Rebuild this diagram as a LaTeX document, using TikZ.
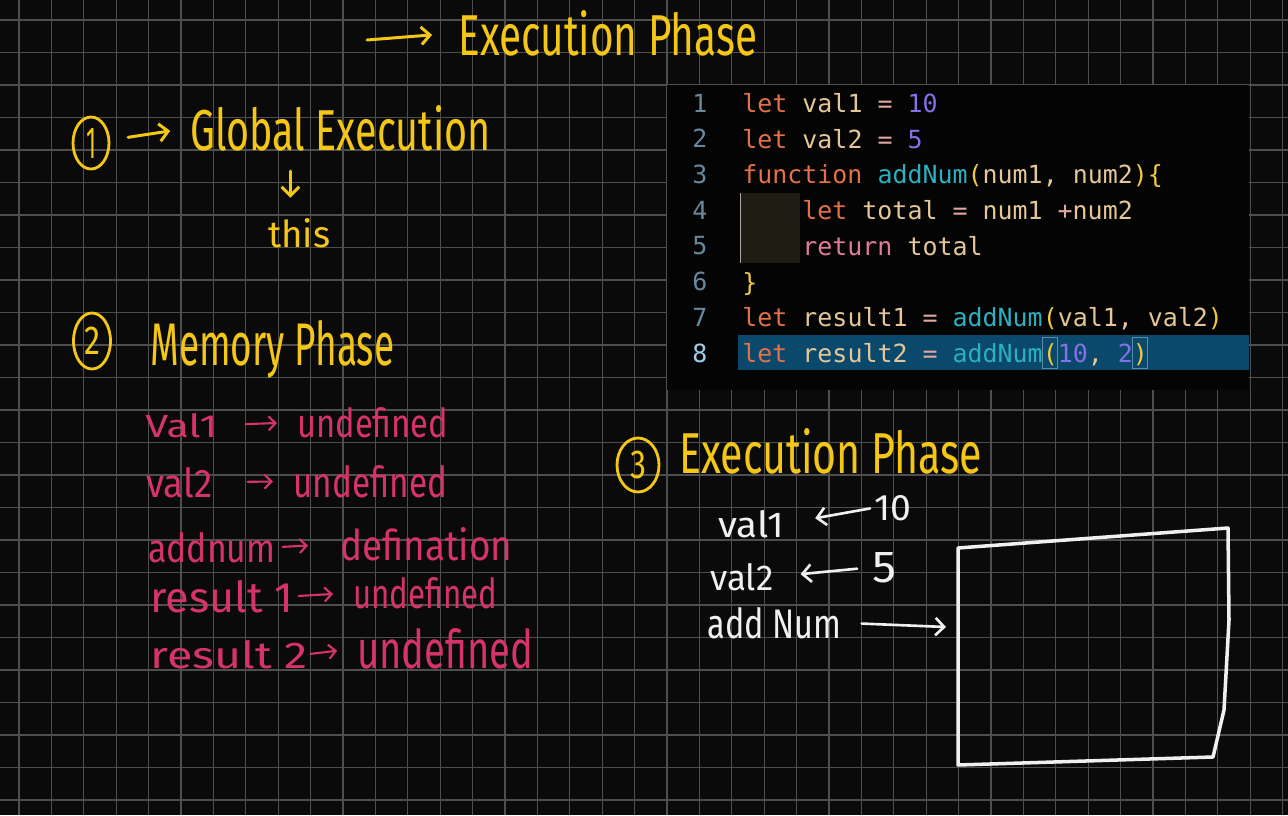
\documentclass[tikz,border=0pt]{standalone}
\usepackage{fontspec}
\usepackage{graphicx}
\usepackage{tikz}
\usetikzlibrary{arrows.meta,shapes.geometric}
\newfontfamily\handfont{Fira Sans}
\newfontfamily\codefont{DejaVu Sans Mono}
\definecolor{boardbg}{RGB}{10,10,10}
\definecolor{gridcol}{RGB}{78,78,78}
\definecolor{yellowink}{RGB}{244,198,22}
\definecolor{pinkink}{RGB}{214,52,104}
\definecolor{chalk}{RGB}{240,240,240}
\definecolor{codebg}{RGB}{4,4,4}
\definecolor{hlbg}{RGB}{10,72,108}
\definecolor{hlbox}{RGB}{90,140,170}
\definecolor{indentbg}{RGB}{30,27,18}
\definecolor{ckw}{RGB}{226,112,72}
\definecolor{cid}{RGB}{228,198,152}
\definecolor{cop}{RGB}{226,168,160}
\definecolor{cnum}{RGB}{132,112,232}
\definecolor{cfn}{RGB}{42,176,192}
\definecolor{cpar}{RGB}{240,202,60}
\definecolor{cret}{RGB}{226,122,160}
\definecolor{clnum}{RGB}{104,136,160}
\definecolor{clnumhi}{RGB}{162,206,236}
% handwriting squeezed to the size it has on the board (width, height in cm)
\newcommand{\hw}[3]{\resizebox{#1cm}{#2cm}{#3}}
\newcommand{\kwd}[1]{\textcolor{ckw}{#1}}
\newcommand{\idt}[1]{\textcolor{cid}{#1}}
\newcommand{\opr}[1]{\textcolor{cop}{#1}}
\newcommand{\numb}[1]{\textcolor{cnum}{#1}}
\newcommand{\fnc}[1]{\textcolor{cfn}{#1}}
\newcommand{\prn}[1]{\textcolor{cpar}{#1}}
\newcommand{\retk}[1]{\textcolor{cret}{#1}}

\begin{document}
\begin{tikzpicture}[x=0.02cm,y=-0.02cm,
  hand/.style={inner sep=0pt,anchor=base west,font=\handfont},
  yel/.style={hand,text=yellowink},
  pnk/.style={hand,text=pinkink},
  wht/.style={hand,text=chalk},
  yarrow/.style={draw=yellowink,line width=1.7pt,line cap=round,-{Straight Barb[length=5pt,width=10pt]}},
  parrow/.style={draw=pinkink,line width=1.2pt,line cap=round,-{Straight Barb[length=4pt,width=8pt]}},
  warrow/.style={draw=chalk,line width=1.5pt,line cap=round,-{Straight Barb[length=5pt,width=10pt]}},
  circnum/.style={ellipse,draw=yellowink,line width=1.6pt,inner sep=0pt,text=yellowink,font=\handfont},
  code/.style={inner sep=0pt,anchor=base west,font=\codefont\fontsize{14.2}{17}\selectfont},
  lnum/.style={inner sep=0pt,anchor=base,font=\codefont\fontsize{14.2}{17}\selectfont,text=clnum}]
  \fill[boardbg] (0,0) rectangle (1288,815);
  \useasboundingbox (0,0) rectangle (1288,815);
  % board grid
  \foreach \k in {0,...,39}
    \draw[gridcol,line width=0.7pt] ({19+32.4*\k},0) -- ({19+32.4*\k},815);
  \foreach \k in {0,...,24}
    \draw[gridcol,line width=0.7pt] (0,{20+32.5*\k}) -- (1288,{20+32.5*\k});

  % editor
  \fill[codebg] (667,85) rectangle (1249,390);
  \fill[hlbg] (738,335) rectangle (1249,370);
  \fill[indentbg] (740,193) rectangle (800,263);
  \draw[gray!70,line width=0.5pt] (740,193) -- (740,263);
  \draw[hlbox,line width=0.5pt] (1042,337) rectangle (1057,368);
  \draw[hlbox,line width=0.5pt] (1132,337) rectangle (1147,368);
  \foreach \n in {1,...,7}
    \node[lnum] (n\n) at (700,{112+35.7*(\n-1)}) {\n};
  \node[lnum,text=clnumhi] (n8) at (700,362) {8};
  \node[code] (l1) at (742,112) {\kwd{let} \idt{val1} \opr{=} \numb{10}};
  \node[code] (l2) at (742,148) {\kwd{let} \idt{val2} \opr{=} \numb{5}};
  \node[code] (l3) at (742,183) {\kwd{function} \fnc{addNum}\prn{(}\idt{num1,} \idt{num2}\prn{)\{}};
  \node[code] (l4) at (802,219) {\kwd{let} \idt{total} \opr{=} \idt{num1} \opr{+}\idt{num2}};
  \node[code] (l5) at (802,255) {\retk{return} \idt{total}};
  \node[code] (l6) at (742,291) {\prn{\}}};
  \node[code] (l7) at (742,326) {\kwd{let} \idt{result1} \opr{=} \fnc{addNum}\prn{(}\idt{val1,} \idt{val2}\prn{)}};
  \node[code] (l8) at (742,362) {\kwd{let} \idt{result2} \opr{=} \fnc{addNum}\prn{(}\numb{10}\idt{,} \numb{2}\prn{)}};

  % top title
  \coordinate (topstart) at (367,40);
  \node[yel] (exectop) at (458,55) {\hw{5.98}{0.90}{Execution Phase}};
  \draw[yarrow,shorten >=0.52cm] (topstart) -- (exectop.west);

  % 1 global
  \node[circnum,minimum width=0.72cm,minimum height=1.04cm] (one) at (91,143) {\hw{0.2}{0.6}{1}};
  \node[yel] (glob) at (190,150) {\hw{6.0}{0.9}{Global Execution}};
  \draw[yarrow,shorten <=0.36cm,shorten >=0.4cm] (one) -- (glob.west);
  \node[yel] (this) at (268,247) {\hw{1.24}{0.58}{this}};
  \coordinate (thisin) at ([xshift=-0.18cm]this.north);
  \draw[yarrow,shorten <=0.4cm,shorten >=0.4cm] (thisin |- glob.south) -- (thisin);

  % 2 memory
  \node[circnum,minimum width=0.74cm,minimum height=1.12cm] (two) at (92,341) {\hw{0.32}{0.55}{2}};
  \node[yel] (mem) at (150,365) {\hw{4.88}{0.9}{Memory Phase}};
  \node[pnk] (v1) at (145,437) {\hw{1.44}{0.48}{Val1}};
  \node[pnk] (u1) at (297,437) {\hw{3.02}{0.6}{undefined}};
  \node[pnk] (v2) at (146,497) {\hw{1.32}{0.6}{val2}};
  \node[pnk] (u2) at (293,497) {\hw{3.08}{0.64}{undefined}};
  \node[pnk] (v3) at (148,562) {\hw{2.54}{0.6}{addnum}};
  \node[pnk] (u3) at (340,560) {\hw{3.44}{0.66}{defination}};
  \node[pnk] (v4) at (150,612) {\hw{2.86}{0.64}{result 1}};
  \node[pnk] (u4) at (353,608) {\hw{2.88}{0.62}{undefined}};
  \node[pnk] (v5) at (150,668) {\hw{3.14}{0.56}{result 2}};
  \node[pnk] (u5) at (357,668) {\hw{3.52}{0.8}{undefined}};
  \draw[parrow,shorten <=0.56cm,shorten >=0.4cm] (v1.east) -- (u1.west);
  \draw[parrow,shorten <=0.7cm,shorten >=0.4cm] (v2.east) -- (u2.west);
  \draw[parrow,shorten <=0.14cm,shorten >=0.64cm] (v3.east) -- (u3.west);
  \draw[parrow,shorten <=0.1cm,shorten >=0.4cm] (v4.east) -- (u4.west);
  \draw[parrow,shorten <=0.06cm,shorten >=0.4cm] (v5.east) -- (u5.west);

  % 3 execution
  \node[circnum,minimum width=0.84cm,minimum height=1.08cm] (three) at (638,465) {\hw{0.32}{0.55}{3}};
  \node[yel] (exec) at (679,473) {\hw{6.06}{0.9}{Execution Phase}};
  \node[wht] (val1) at (718,537) {\hw{1.32}{0.54}{val1}};
  \node[wht] (ten) at (874,520) {\hw{0.74}{0.5}{10}};
  \node[wht] (val2) at (710,590) {\hw{1.26}{0.54}{val2}};
  \node[wht] (five) at (872,582) {\hw{0.48}{0.6}{5}};
  \node[wht] (addn) at (707,638) {\hw{2.68}{0.62}{add Num}};
  \coordinate (boxin) at (946,627);
  \draw[warrow,shorten <=0.08cm,shorten >=0.62cm] (ten.west) -- (val1.east);
  \draw[warrow,shorten <=0.3cm,shorten >=0.54cm] (five.west) -- (val2.east);
  \draw[warrow,shorten <=0.4cm] (addn.east) -- (boxin);
  \draw[chalk,line width=2pt,line join=round] (958,548) -- (1228,528) -- (1229,620)
    -- (1224,710) -- (1213,757) -- (958,765) -- cycle;
\end{tikzpicture}
\end{document}
